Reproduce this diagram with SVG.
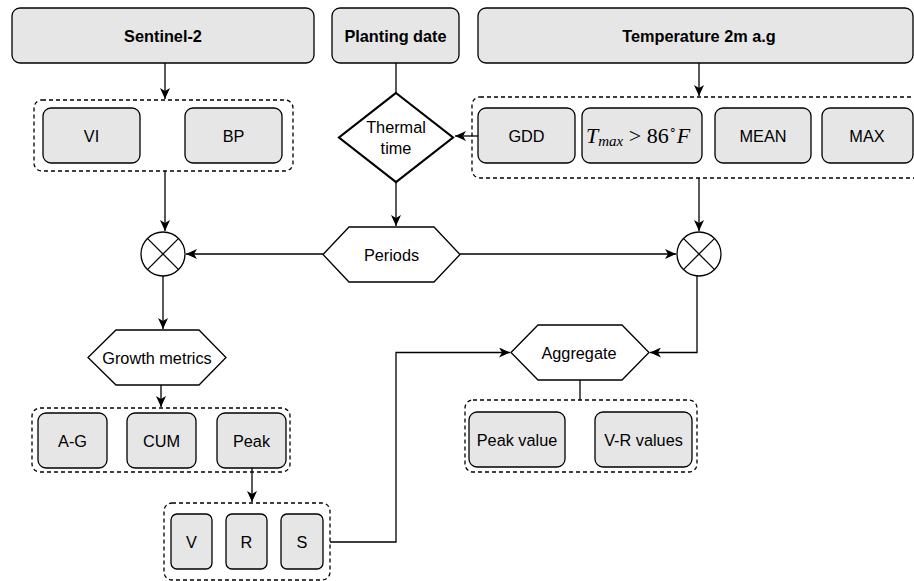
<svg xmlns="http://www.w3.org/2000/svg" width="914" height="581" viewBox="0 0 914 581">
<style>
.box{fill:#e6e6e6;stroke:#000;stroke-width:1.3}
.grp{fill:none;stroke:#000;stroke-width:1.3;stroke-dasharray:4 3}
.ln{fill:none;stroke:#000;stroke-width:1.3}
.hex{fill:#fff;stroke:#000;stroke-width:1.3}
.t{font-family:"Liberation Sans",Arial,sans-serif;font-size:16.3px;fill:#000;text-anchor:middle;dominant-baseline:central}
.b{font-weight:bold}
.m{font-family:"Liberation Serif","Times New Roman",serif;fill:#000}
</style>
<defs>
<marker id="ar" markerUnits="userSpaceOnUse" markerWidth="12" markerHeight="10" refX="11" refY="5" orient="auto">
<path d="M0,0 L11,5 L0,10 L3,5 Z" fill="#000"/>
</marker>
</defs>
<rect width="914" height="581" fill="#fff"/>

<g id="sentinel">
<rect class="box" x="12" y="8" width="302" height="55" rx="8"/>
<text class="t b" x="163" y="36">Sentinel-2</text>
</g>
<g id="planting">
<rect class="box" x="332" y="8" width="127" height="55" rx="8"/>
<text class="t b" x="395.5" y="36">Planting date</text>
</g>
<g id="temperature">
<rect class="box" x="478" y="8" width="435" height="55" rx="8"/>
<text class="t b" x="699" y="36">Temperature 2m a.g</text>
</g>

<g id="group-s2">
<rect class="grp" x="34" y="100" width="259" height="71" rx="8"/>
<g id="vi"><rect class="box" x="43" y="108" width="97" height="55" rx="8"/><text class="t" x="91.5" y="136">VI</text></g>
<g id="bp"><rect class="box" x="185" y="108" width="97" height="55" rx="8"/><text class="t" x="233.5" y="136">BP</text></g>
</g>

<g id="thermal">
<polygon points="396,93 453,137.5 396,182 339,137.5" fill="#fff" stroke="#000" stroke-width="2.2"/>
<text class="t" x="396" y="127">Thermal</text>
<text class="t" x="396" y="148">time</text>
</g>

<g id="group-temp">
<rect class="grp" x="472" y="97" width="452" height="81" rx="8"/>
<g id="gdd"><rect class="box" x="478" y="108" width="97" height="55" rx="8"/><text class="t" x="526.5" y="136">GDD</text></g>
<g id="tmax"><rect class="box" x="582" y="108" width="120" height="55" rx="8"/>
<text class="m" x="586" y="143" font-size="22"><tspan font-style="italic">T</tspan><tspan font-style="italic" font-size="15" dy="3">max</tspan><tspan dy="-3" xml:space="preserve"> &gt; 86</tspan><tspan font-size="12" dy="-9">∘</tspan><tspan font-style="italic" dy="9">F</tspan></text></g>
<g id="mean"><rect class="box" x="715" y="108" width="96" height="55" rx="8"/><text class="t" x="763" y="136">MEAN</text></g>
<g id="max"><rect class="box" x="822" y="108" width="91" height="55" rx="8"/><text class="t" x="867" y="136">MAX</text></g>
</g>

<g id="periods">
<polygon class="hex" points="323,254.5 349,227 434,227 460,254.5 434,282 349,282"/>
<text class="t" x="391.5" y="254.5">Periods</text>
</g>

<g id="mult-left">
<circle cx="163" cy="254" r="22" fill="#fff" stroke="#000" stroke-width="1.3"/>
<path class="ln" d="M147.4,238.4 L178.6,269.6 M178.6,238.4 L147.4,269.6"/>
</g>
<g id="mult-right">
<circle cx="699" cy="254" r="22" fill="#fff" stroke="#000" stroke-width="1.3"/>
<path class="ln" d="M683.4,238.4 L714.6,269.6 M714.6,238.4 L683.4,269.6"/>
</g>

<g id="growth">
<polygon class="hex" points="88,357.5 116,330 199,330 226,357.5 199,385 116,385"/>
<text class="t" x="157" y="357.5">Growth metrics</text>
</g>

<g id="aggregate">
<polygon class="hex" points="511,352.5 538,325 622,325 649,352.5 622,380 538,380"/>
<text class="t" x="579" y="352.5">Aggregate</text>
</g>

<g id="group-metrics">
<rect class="grp" x="32" y="408" width="258" height="64" rx="8"/>
<g id="ag"><rect class="box" x="38" y="413" width="69" height="55" rx="8"/><text class="t" x="72.5" y="440.5">A-G</text></g>
<g id="cum"><rect class="box" x="127" y="413" width="69" height="55" rx="8"/><text class="t" x="161.5" y="440.5">CUM</text></g>
<g id="peak"><rect class="box" x="217" y="413" width="69" height="55" rx="8"/><text class="t" x="251.5" y="440.5">Peak</text></g>
</g>

<g id="group-vrs">
<rect class="grp" x="164" y="503" width="166" height="77" rx="8"/>
<g id="v"><rect class="box" x="171" y="514" width="41" height="55" rx="6"/><text class="t" x="191.5" y="541.5">V</text></g>
<g id="r"><rect class="box" x="226" y="514" width="41" height="55" rx="6"/><text class="t" x="246.5" y="541.5">R</text></g>
<g id="s"><rect class="box" x="281" y="514" width="42" height="55" rx="6"/><text class="t" x="302" y="541.5">S</text></g>
</g>

<g id="group-values">
<rect class="grp" x="465" y="400" width="232" height="72" rx="8"/>
<g id="peakvalue"><rect class="box" x="469" y="412" width="96" height="55" rx="8"/><text class="t" x="517" y="439.5">Peak value</text></g>
<g id="vrvalues"><rect class="box" x="595" y="412" width="97" height="55" rx="8"/><text class="t" x="643.5" y="439.5">V-R values</text></g>
</g>

<g id="connectors">
<path class="ln" d="M165,63 L165,99" marker-end="url(#ar)"/>
<path class="ln" d="M396,63 L396,93"/>
<path class="ln" d="M699,63 L699,96" marker-end="url(#ar)"/>
<path class="ln" d="M478,136 L455,136" marker-end="url(#ar)"/>
<path class="ln" d="M396,182 L396,226" marker-end="url(#ar)"/>
<path class="ln" d="M165,171 L165,231" marker-end="url(#ar)"/>
<path class="ln" d="M699,178 L699,231" marker-end="url(#ar)"/>
<path class="ln" d="M323,254 L186,254" marker-end="url(#ar)"/>
<path class="ln" d="M460,254 L676,254" marker-end="url(#ar)"/>
<path class="ln" d="M163,276 L163,329" marker-end="url(#ar)"/>
<path class="ln" d="M161,385 L161,407" marker-end="url(#ar)"/>
<path class="ln" d="M252,468 L252,502" marker-end="url(#ar)"/>
<path class="ln" d="M330,542 L396,542 L396,352.5 L510,352.5" marker-end="url(#ar)"/>
<path class="ln" d="M697,276 L697,352.5 L650,352.5" marker-end="url(#ar)"/>
<path class="ln" d="M580,380 L580,400"/>
</g>
</svg>
